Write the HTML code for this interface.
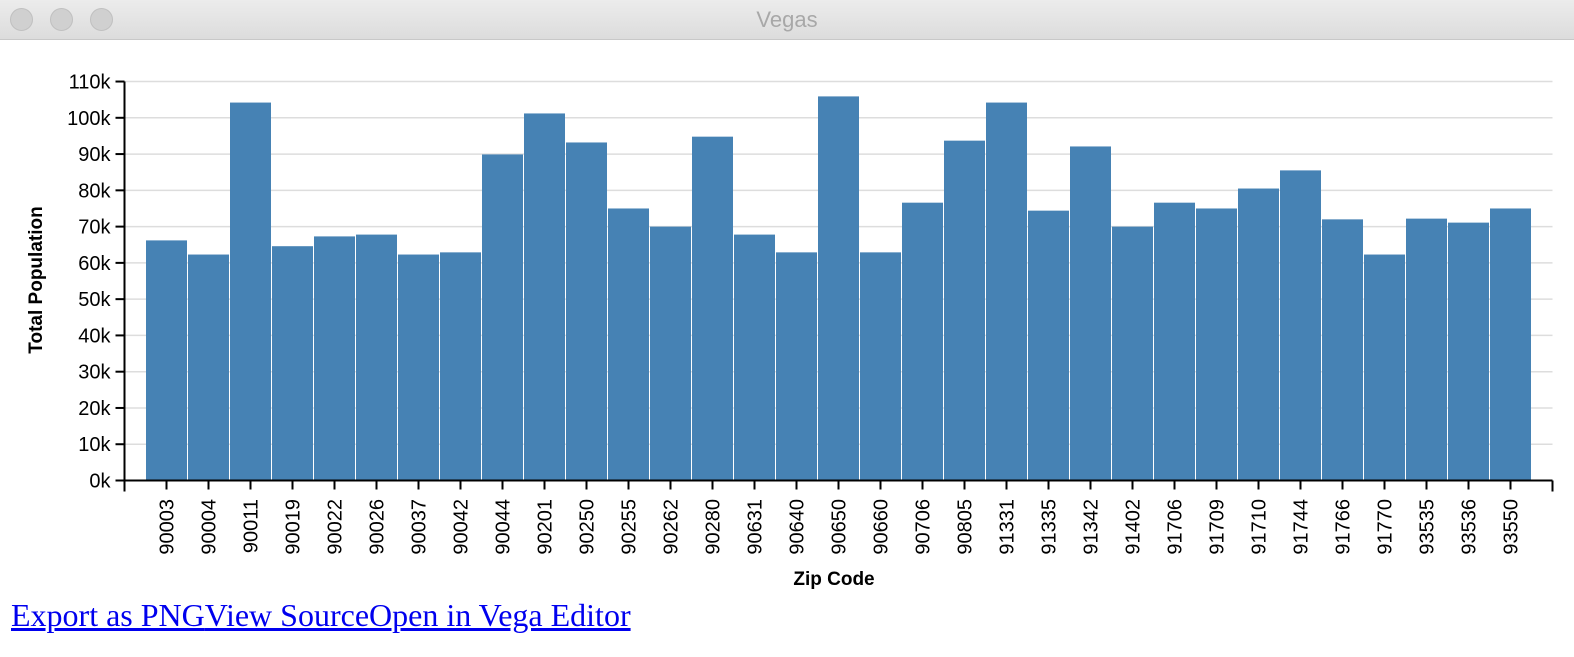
<!DOCTYPE html>
<html><head><meta charset="utf-8"><style>
body{margin:0;width:1574px;height:657px;background:#fff;overflow:hidden;font-family:"Liberation Sans",sans-serif}
#tb{position:absolute;left:0;top:0;width:1574px;height:39px;background:linear-gradient(#ececec,#dcdcdc);border-bottom:1px solid #c8c8c8}
.dot{position:absolute;top:8px;width:23px;height:23px;border-radius:50%;background:#d0d0d0;border:1px solid #c0c0c0;box-sizing:border-box}
#ttl{position:absolute;top:7px;width:100%;text-align:center;color:#a8a8a8;font-size:22px}
#links{position:absolute;left:11px;top:597px;font-family:"Liberation Serif",serif;font-size:32px}
#links a{color:#00e;text-decoration:underline}
</style></head><body>
<div id="tb">
<div class="dot" style="left:10px"></div>
<div class="dot" style="left:50px"></div>
<div class="dot" style="left:90px"></div>
<div id="ttl">Vegas</div>
</div>
<svg id="chart" width="1574" height="600" style="position:absolute;left:0;top:0"></svg>
<div id="links"><a>Export as PNG</a><a>View Source</a><a>Open in Vega Editor</a></div>
<script>
const zips=["90003","90004","90011","90019","90022","90026","90037","90042","90044","90201","90250","90255","90262","90280","90631","90640","90650","90660","90706","90805","91331","91335","91342","91402","91706","91709","91710","91744","91766","91770","93535","93536","93550"];
const pops=[66200,62300,104200,64600,67300,67800,62300,62900,89900,101200,93200,75000,70000,94800,67800,62900,105900,62900,76600,93700,104200,74400,92100,70000,76600,75000,80500,85500,72000,62300,72200,71100,75000];
const yTicks=[0,10000,20000,30000,40000,50000,60000,70000,80000,90000,100000,110000];
const NS="http://www.w3.org/2000/svg",svg=document.getElementById('chart');
const x0=124.5,step=42,y0=480.5,pxPer=36.27/10000;
const y=v=>y0-v*pxPer, xc=i=>x0+step*(i+1);
function mk(t,a,txt){const e=document.createElementNS(NS,t);for(const k in a)e.setAttribute(k,a[k]);if(txt!=null)e.textContent=txt;svg.appendChild(e);return e;}
const xEnd=x0+step*(zips.length+1);
yTicks.forEach(t=>{
 const g=mk('line',{x1:x0,x2:xEnd,y1:y(t),y2:y(t),stroke:'#ddd','stroke-width':1.5});
 
 const tk=mk('line',{x1:x0-9,x2:x0,y1:y(t),y2:y(t),stroke:'#000','stroke-width':2});
 
 const l=mk('text',{x:x0-14,y:y(t)+7,'text-anchor':'end','font-size':20},(t/1000)+'k');
 
});
pops.forEach((v,i)=>{
 const b=mk('rect',{x:xc(i)-20.5,y:y(v),width:41,height:y0-y(v),fill:'#4682b4'});
 
});
zips.forEach((z,i)=>{
 const tk=mk('line',{x1:xc(i),x2:xc(i),y1:y0,y2:y0+9,stroke:'#000','stroke-width':2});
 
 const l=mk('text',{transform:`translate(${xc(i)+7},499) rotate(-90)`,'text-anchor':'end','font-size':20},z);
 
});
[x0,xEnd].forEach(xx=>{const t=mk('line',{x1:xx,x2:xx,y1:y0,y2:y0+11,stroke:'#000','stroke-width':2});});
const ax=mk('line',{x1:x0,x2:xEnd,y1:y0,y2:y0,stroke:'#000','stroke-width':2});

const ay=mk('line',{x1:x0,x2:x0,y1:y(110000),y2:y0+11,stroke:'#000','stroke-width':2});

const xt=mk('text',{x:834,y:585,'text-anchor':'middle','font-size':19,'font-weight':'bold'},'Zip Code');

const yt=mk('text',{transform:'translate(42,280) rotate(-90)','text-anchor':'middle','font-size':19,'font-weight':'bold'},'Total Population');

</script>
</body></html>
